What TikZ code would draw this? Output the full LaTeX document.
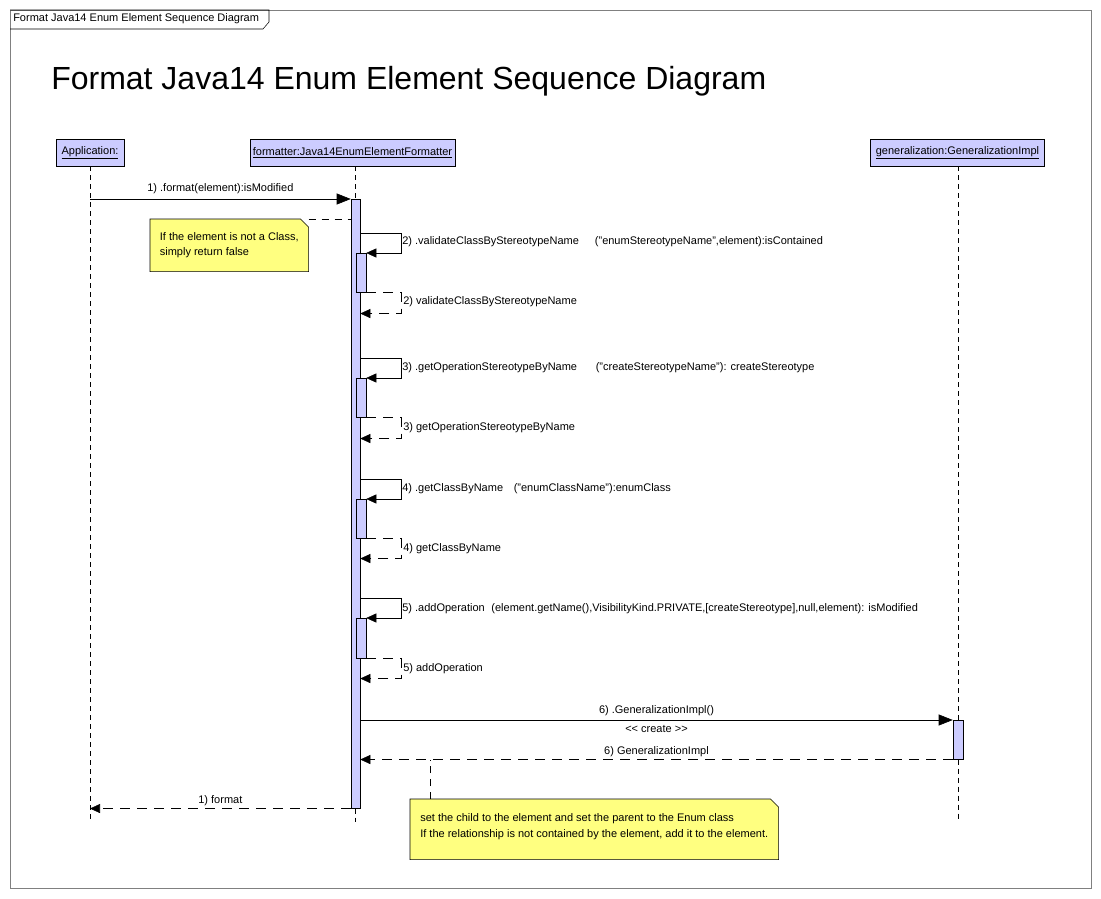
\documentclass[tikz,border=0pt]{standalone}
\usepackage{fontspec}
\setmainfont{Liberation Sans}
\usetikzlibrary{arrows.meta,calc}
\pgfdeclarelayer{bg}
\pgfsetlayers{bg,main}
\definecolor{objfill}{RGB}{204,204,255}
\definecolor{notefill}{RGB}{255,255,128}
\definecolor{framegray}{RGB}{128,128,128}
\newcommand{\lblfont}{\fontsize{8.25}{10}\selectfont}
\begin{document}
\begin{tikzpicture}[x=0.75pt,y=-0.75pt,line width=0.75pt,
  obj/.style={draw, fill=objfill, minimum height=20.25pt, inner sep=0pt, font=\lblfont},
  act/.style={draw, fill=objfill, inner sep=0pt, minimum width=7.5pt},
  lifeline/.style={dash pattern=on 3.75pt off 3pt},
  sync/.style={-{Triangle[length=10.5pt,width=8.25pt]}},
  selfarrow/.style={-{Triangle[length=7.5pt,width=6.75pt]}},
  ret/.style={dash pattern=on 7.5pt off 5.25pt, -{Triangle[length=7.5pt,width=6.75pt]}},
  notelink/.style={dash pattern=on 5.25pt off 4.5pt},
  lbl/.style={font=\lblfont, inner sep=0pt},
  note/.style={font=\lblfont, align=left, inner sep=0pt, anchor=north west}]
\begin{pgfonlayer}{bg}
\fill[white] (0,0) rectangle (1101,899);
\end{pgfonlayer}
\useasboundingbox (0,0) rectangle (1101,899);
% frame
\draw[framegray] (10,10) rectangle (1091,888);
\node[lbl, anchor=west] (tabtext) at (13,19) {Format Java14 Enum Element Sequence Diagram};
\draw (10,10) -- (269,10) -- (269,22) -- (263,29) -- (10,29);
\node[anchor=west, inner sep=0pt, font=\fontsize{24}{28}\selectfont] (title) at (51,81) {Format Java14 Enum Element Sequence Diagram};
% objects
\node[obj, minimum width=51pt] (app) at (90,152.5) {\underline{Application:}};
\node[obj, minimum width=153.75pt] (fmt) at (352.5,152.5) {\underline{formatter:Java14EnumElementFormatter}};
\node[obj, minimum width=130.5pt] (gen) at (957.5,152.5) {\underline{generalization:GeneralizationImpl}};
% activations
\node[act, minimum width=6.75pt, minimum height=456.75pt, anchor=north] (A) at (355.5,199) {};
\node[act, minimum height=29.25pt, anchor=north] (G) at (958,720) {};
\coordinate (bottom) at (90,822);
% lifelines
\draw[lifeline] (app) -- (bottom);
\draw[lifeline] (fmt.south -| A.north) -- (A.north);
\draw[lifeline] (A.south) -- (A.south |- bottom);
\draw[lifeline] (gen.south -| G.north) -- (G.north);
\draw[lifeline] (G.south) -- (G.south |- bottom);
% message 1
\draw[sync] (app.south |- A.north) -- (A.north west) node[lbl, midway, yshift=7.5pt] {1) .format(element):isModified};
% note 1
\node[note, minimum width=118.5pt, minimum height=39pt] (n1) at (150,219) {If the element is not a Class,\\[1.5pt]simply return false};
\begin{pgfonlayer}{bg}
\draw[fill=notefill] (n1.north west) -- ($(n1.north east)+(-8,0)$) -- ($(n1.north east)+(0,8)$) -- (n1.south east) -- (n1.south west) -- cycle;
\end{pgfonlayer}
\draw[notelink] (n1.north east) -- (A.west |- n1.north);
% self calls
\node[act, minimum height=29.25pt, anchor=north] (N2) at (361,253) {};
\draw[selfarrow] ($(A.east |- N2.north)+(0,-20)$) -- ++(41,0) |- (N2.north east);
\node[lbl, anchor=west] (l2) at (402,242) {2) .validateClassByStereotypeName\hspace{12pt}("enumStereotypeName",element):isContained};
\draw[ret] (N2.south east) -- ++(35,0) |- ($(A.east |- N2.south)+(0,21)$);
\node[lbl, anchor=west] (r2) at (403,302) {2) validateClassByStereotypeName};

\node[act, minimum height=29.25pt, anchor=north] (N3) at (361,378) {};
\draw[selfarrow] ($(A.east |- N3.north)+(0,-20)$) -- ++(41,0) |- (N3.north east);
\node[lbl, anchor=west] (l3) at (402,368) {3) .getOperationStereotypeByName\hspace{14pt}("createStereotypeName"): createStereotype};
\draw[ret] (N3.south east) -- ++(35,0) |- ($(A.east |- N3.south)+(0,21)$);
\node[lbl, anchor=west] (r3) at (403,428) {3) getOperationStereotypeByName};

\node[act, minimum height=29.25pt, anchor=north] (N4) at (361,499) {};
\draw[selfarrow] ($(A.east |- N4.north)+(0,-20)$) -- ++(41,0) |- (N4.north east);
\node[lbl, anchor=west] (l4) at (402,489) {4) .getClassByName\hspace{8pt}("enumClassName"):enumClass};
\draw[ret] (N4.south east) -- ++(35,0) |- ($(A.east |- N4.south)+(0,20)$);
\node[lbl, anchor=west] (r4) at (403,549) {4) getClassByName};

\node[act, minimum height=30pt, anchor=north] (N5) at (361,618) {};
\draw[selfarrow] ($(A.east |- N5.north)+(0,-20)$) -- ++(41,0) |- (N5.north east);
\node[lbl, anchor=west] (l5) at (402,609) {5) .addOperation\hspace{5pt}(element.getName(),VisibilityKind.PRIVATE,[createStereotype],null,element): isModified};
\draw[ret] (N5.south east) -- ++(35,0) |- ($(A.east |- N5.south)+(0,20)$);
\node[lbl, anchor=west] (r5) at (403,669) {5) addOperation};
% message 6
\draw[sync] (A.east |- G.north) -- (G.north west)
  node[lbl, midway, yshift=6.75pt] {6) .GeneralizationImpl()}
  node[lbl, midway, yshift=-6.75pt] {<\kern0pt< create >\kern0pt>};
\draw[ret] (G.south west) -- (A.east |- G.south) node[lbl, midway, yshift=6pt] {6) GeneralizationImpl};
% return 1
\draw[ret] (A.south west) -- (app.south |- A.south) node[lbl, midway, yshift=6pt] {1) format};
% note 2
\node[note, minimum width=276pt, minimum height=45pt] (n2) at (410,799) {set the child to the element  and set the parent to the Enum  class\\[2pt]If the relationship is not contained by the element, add it to the element.\\[-8pt]\strut};
\begin{pgfonlayer}{bg}
\draw[fill=notefill] (n2.north west) -- ($(n2.north east)+(-8,0)$) -- ($(n2.north east)+(0,8)$) -- (n2.south east) -- (n2.south west) -- cycle;
\end{pgfonlayer}
\draw[notelink] ($(n2.north west)+(20,0)$) coordinate (n2l) -- (n2l |- G.south);
\end{tikzpicture}
\end{document}
